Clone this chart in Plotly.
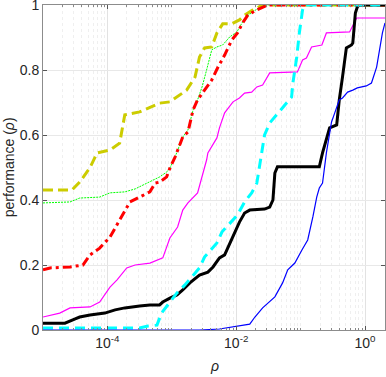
import plotly.graph_objects as go

# performance profiles: log10(tau) and fraction of problems solved
yellow_logtau = [-5.00, -4.55, -4.43, -4.27, -4.16, -3.96, -3.81, -3.73, -3.50, -3.19, -3.03,
                 -2.77, -2.64, -2.57, -2.49, -2.38, -2.30, -2.21, -2.07, -1.95, -1.87, -1.74, -1.59, 0.31]
yellow_perf = [0.431, 0.431, 0.455, 0.500, 0.545, 0.554, 0.575, 0.662, 0.671, 0.698, 0.702,
               0.738, 0.778, 0.840, 0.868, 0.871, 0.914, 0.942, 0.942, 0.954, 0.969, 0.985, 1.0, 1.0]

green_logtau = [-5.00, -4.58, -4.43, -4.12, -3.96, -3.73, -3.57, -3.45, -3.29, -3.19, -3.08, -3.03,
                -2.95, -2.83, -2.75, -2.67, -2.60, -2.53, -2.46, -2.38, -2.30, -2.21, -2.10, -1.99,
                -1.91, -1.84, -1.74, -1.56, 0.31]
green_perf = [0.391, 0.394, 0.406, 0.409, 0.422, 0.425, 0.434, 0.446, 0.462, 0.471, 0.486, 0.498,
              0.532, 0.594, 0.615, 0.677, 0.708, 0.748, 0.800, 0.862, 0.871, 0.877, 0.902, 0.917,
              0.945, 0.963, 0.980, 1.0, 1.0]

red_logtau = [-5.00, -4.89, -4.58, -4.43, -4.38, -4.27, -4.12, -3.96, -3.81, -3.65, -3.50, -3.34,
              -3.26, -3.19, -3.08, -3.03, -2.95, -2.83, -2.75, -2.67, -2.60, -2.49, -2.38, -2.29,
              -2.18, -2.07, -1.98, -1.90, -1.82, -1.68, -1.59, -1.51, 0.31]
red_perf = [0.185, 0.191, 0.194, 0.197, 0.200, 0.231, 0.252, 0.286, 0.338, 0.394, 0.409, 0.425,
            0.452, 0.455, 0.471, 0.498, 0.532, 0.594, 0.609, 0.677, 0.708, 0.738, 0.769, 0.806,
            0.846, 0.892, 0.914, 0.945, 0.969, 0.985, 0.994, 1.0, 1.0]

magenta_logtau = [-5.00, -4.74, -4.58, -4.27, -4.12, -3.96, -3.85, -3.70, -3.57, -3.34, -3.14,
                  -3.03, -2.91, -2.83, -2.75, -2.60, -2.46, -2.44, -2.30, -2.26, -2.18, -2.05,
                  -1.95, -1.87, -1.76, -1.68, -1.59, -1.51, -1.48, -1.05, -0.97, -0.91, -0.83,
                  -0.67, -0.60, -0.24, -0.16, -0.13, 0.31]
magenta_perf = [0.040, 0.052, 0.068, 0.071, 0.086, 0.132, 0.154, 0.191, 0.200, 0.206, 0.222,
                0.283, 0.317, 0.369, 0.391, 0.422, 0.523, 0.545, 0.591, 0.622, 0.668, 0.702,
                0.714, 0.729, 0.732, 0.748, 0.754, 0.778, 0.791, 0.794, 0.831, 0.837, 0.871,
                0.877, 0.914, 0.917, 0.948, 0.960, 0.960]

black_logtau = [-5.00, -4.66, -4.50, -4.43, -4.27, -4.04, -3.88, -3.73, -3.50, -3.34, -3.19,
                -3.14, -3.03, -2.92, -2.83, -2.72, -2.57, -2.44, -2.36, -2.26, -2.18, -2.10,
                -2.02, -1.95, -1.87, -1.79, -1.56, -1.48, -1.43, -1.40, -1.36, -0.71, -0.66,
                -0.60, -0.55, -0.44, -0.40, -0.35, -0.29, -0.21, -0.19, -0.15, -0.12, -0.09, 0.31]
black_perf = [0.021, 0.021, 0.034, 0.040, 0.046, 0.052, 0.062, 0.068, 0.074, 0.077, 0.077,
              0.086, 0.098, 0.108, 0.123, 0.145, 0.169, 0.178, 0.194, 0.222, 0.231, 0.268,
              0.302, 0.332, 0.360, 0.369, 0.372, 0.378, 0.400, 0.483, 0.502, 0.502, 0.545,
              0.585, 0.622, 0.631, 0.708, 0.778, 0.868, 0.877, 0.883, 0.975, 0.994, 1.0, 1.0]

cyan_logtau = [-5.00, -3.50, -3.37, -3.23, -3.16, -3.03, -2.92, -2.80, -2.57, -2.49, -2.30,
               -2.22, -2.10, -1.98, -1.87, -1.76, -1.68, -1.64, -1.56, -1.48, -1.37, -1.14,
               -1.12, -1.06, -1.02, -0.97, -0.94, 0.31]
cyan_perf = [0.006, 0.006, 0.012, 0.015, 0.052, 0.086, 0.114, 0.138, 0.191, 0.225, 0.268,
             0.302, 0.329, 0.354, 0.394, 0.422, 0.452, 0.502, 0.600, 0.637, 0.662, 0.717,
             0.760, 0.840, 0.914, 0.985, 1.0, 1.0]

blue_logtau = [-5.00, -2.57, -2.26, -2.07, -1.79, -1.71, -1.59, -1.40, -1.28, -1.20, -1.09,
               -0.98, -0.89, -0.81, -0.75, -0.71, -0.66, -0.60, -0.52, -0.47, -0.40, -0.35,
               -0.27, -0.19, -0.12, 0.02, 0.10, 0.18, 0.22, 0.27, 0.31]
blue_perf = [0.0, 0.0, 0.003, 0.009, 0.018, 0.040, 0.068, 0.102, 0.145, 0.185, 0.206,
             0.246, 0.277, 0.348, 0.409, 0.437, 0.452, 0.545, 0.640, 0.668, 0.708, 0.714,
             0.732, 0.738, 0.745, 0.751, 0.760, 0.809, 0.862, 0.914, 0.945]

y_ticks = [0, 0.2, 0.4, 0.6, 0.8, 1]
y_ticktext = ["0", "0.2", "0.4", "0.6", "0.8", "1"]
x_ticks = [1e-4, 1e-2, 1]
x_ticktext = ["10<sup>-4</sup>", "10<sup>-2</sup>", "10<sup>0</sup>"]

series = [
    (yellow_logtau, yellow_perf, "#cccc00", 3, "10px,5px"),
    (green_logtau, green_perf, "#00ff00", 1, "2px,1px"),
    (red_logtau, red_perf, "#ff0000", 3, "9px,4px,3px,4px"),
    (magenta_logtau, magenta_perf, "#ff00ff", 1.2, "solid"),
    (black_logtau, black_perf, "#000000", 3, "solid"),
    (cyan_logtau, cyan_perf, "#00ffff", 3, "10px,6px"),
    (blue_logtau, blue_perf, "#0000ff", 1.2, "solid"),
]

fig = go.Figure()
for lt, perf, color, width, dash in series:
    fig.add_trace(go.Scatter(
        x=[10 ** v for v in lt], y=perf, mode="lines",
        line=dict(color=color, width=width, dash=dash),
        showlegend=False,
    ))

minor_vals = [m * 10 ** e for e in range(-5, 1) for m in range(1, 10)]
minor_vals = [v for v in minor_vals if v not in x_ticks]

axis_font = dict(family="Liberation Sans, Arial, sans-serif", size=14, color="#262626")

fig.update_xaxes(
    type="log", range=[-5, 0.31], automargin=False,
    tickmode="array", tickvals=x_ticks, ticktext=x_ticktext,
    ticks="inside", ticklen=4, tickcolor="#555555",
    showline=True, linecolor="#8c8c8c", linewidth=1, mirror="ticks",
    showgrid=True, gridcolor="#e2e2e2", gridwidth=1,
    minor=dict(tickmode="array", tickvals=minor_vals, ticks="inside", ticklen=2,
               tickcolor="#888888", showgrid=True, gridcolor="#efefef", griddash="dot"),
    zeroline=False, tickfont=axis_font,
)
fig.update_yaxes(
    range=[0, 1], automargin=False,
    tickmode="array", tickvals=y_ticks, ticktext=y_ticktext,
    ticks="inside", ticklen=4, tickcolor="#555555",
    showline=True, linecolor="#8c8c8c", linewidth=1, mirror="ticks",
    showgrid=True, gridcolor="#e8e8e8", gridwidth=1,
    zeroline=False, tickfont=axis_font, ticklabeloverflow="allow",
)

fig.add_annotation(
    text="performance (<i>ρ</i>)", xref="paper", yref="paper",
    x=-0.1, y=0.5, textangle=-90, showarrow=False,
    font=axis_font, xanchor="center", yanchor="middle",
)
fig.add_annotation(
    text="<i>ρ</i>", xref="paper", yref="paper",
    x=0.5, y=-0.112, showarrow=False,
    font=axis_font, xanchor="center", yanchor="middle",
)

fig.update_layout(
    width=386, height=377,
    margin=dict(l=43, r=1, t=5, b=47),
    plot_bgcolor="white", paper_bgcolor="white",
)

# drop the page's default body margin so the figure sits at the window's corner
fig.write_html(
    "out.html",
    config={"displayModeBar": False},
    post_script="document.body.style.margin='0';document.body.style.overflow='hidden';",
)
